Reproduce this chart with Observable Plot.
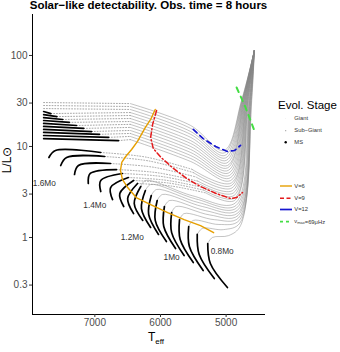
<!DOCTYPE html>
<html><head><meta charset="utf-8">
<script src="https://cdn.jsdelivr.net/npm/d3@7"></script>
<script src="https://cdn.jsdelivr.net/npm/@observablehq/plot@0.6"></script>
<style>
body{margin:0;background:#fff;font-family:"Liberation Sans",Arial,sans-serif;}
#wrap{position:relative;width:340px;height:352px;overflow:hidden;background:#fff;}
#wrap svg{position:absolute;left:0;top:0;}
</style></head><body><div id="wrap"></div>
<script>
// ---- track masses (Msun) ----
const masses = [0.8,0.85,0.9,0.95,1.0,1.05,1.1,1.15,1.2,1.25,1.3,1.35,1.4,1.45,1.5,1.55,1.6,1.65,1.7,1.75,1.8,1.85,1.9,1.95,2.0,2.05,2.1,2.15,2.2,2.25,2.3];
// ---- main sequence part of each track: [Teff, L] ----
const msTracks = [
 [[4980,0.282],[5240,0.518],[5280,0.859]],
 [[5180,0.354],[5410,0.650],[5440,1.08]],
 [[5350,0.434],[5560,0.796],[5570,1.32]],
 [[5500,0.531],[5700,0.95],[5710,1.57]],
 [[5640,0.634],[5830,1.13],[5830,1.88]],
 [[5770,0.757],[5950,1.32],[5940,2.19]],
 [[5910,0.903],[6080,1.54],[6050,2.55]],
 [[6030,1.08],[6180,1.79],[6140,2.89]],
 [[6150,1.29],[6290,2.08],[6230,3.28]],
 [[6270,1.54],[6400,2.36],[6300,3.63]],
 [[6410,1.83],[6500,2.68],[6350,3.92]],
 [[6560,2.19],[6620,3.04],[6410,4.23]],
 [[6730,2.61],[6760,3.54],[6490,4.56]],
 [[6910,3.20],[6910,4.23],[6580,5.05]],
 [[7100,3.92],[7070,5.05],[6670,5.58]],
 [[7310,4.92],[7250,6.18],[6760,6.50]],
 [[7520,6.18],[7430,7.57],[6850,7.76]],
 [[7700,7.57],[7600,9.04],[6910,8.59]],
 [[7780,12.2],[6640,11.6]],
 [[7780,13.2],[6790,12.6]],
 [[7780,14.3],[6930,13.6]],
 [[7780,15.4],[7050,14.6]],
 [[7780,16.6],[7170,15.8]],
 [[7780,17.9],[7280,17.0]],
 [[7780,19.3],[7390,18.4]],
 [[7780,20.8],[7490,19.8]],
 [[7780,22.4],[7580,21.3]],
 [[7780,24.2],[7670,23.0]],
 [],[],[]
];
// ---- fast sub-giant crossing (sparse points) ----
const sgDotted = [
 [],[],[],[],[],[],[],[],[],[],
 [[6350,3.92],[5830,3.67],[5310,3.09]],
 [[6410,4.23],[5870,3.96],[5340,3.31]],
 [[6490,4.56],[5920,4.26],[5360,3.55]],
 [[6580,5.05],[5990,4.69],[5400,3.85]],
 [[6670,5.58],[6050,5.15],[5430,4.16]],
 [[6760,6.50],[6110,5.92],[5460,4.62]],
 [[6850,7.76],[6180,6.94],[5500,5.17]],
 [[6910,8.59],[6220,7.64],[5520,5.61]],
 [[6640,11.6],[6460,11.9]],
 [[6790,12.6],[6460,12.9]],
 [[6930,13.6],[6460,13.9]],
 [[7050,14.6],[6460,15.0]],
 [[7170,15.8],[6460,16.2]],
 [[7280,17.0],[6460,17.5]],
 [[7390,18.4],[6460,18.8]],
 [[7490,19.8],[6460,20.3]],
 [[7580,21.3],[6460,21.9]],
 [[7670,23.0],[6460,23.6]],
 [[7780,26.1],[6460,25.5]],
 [[7780,28.2],[6460,27.5]],
 [[7780,30.4],[6460,29.6]]
];
// ---- later sub-giant path down to the base of the RGB ----
const postMS = [
 [[5280,0.859],[5210,1.00],[4960,1.05],[4780,1.35]],
 [[5440,1.08],[5360,1.26],[5040,1.22],[4790,1.44]],
 [[5570,1.32],[5500,1.54],[5110,1.39],[4800,1.54]],
 [[5710,1.57],[5640,1.83],[5180,1.57],[4810,1.64]],
 [[5830,1.88],[5760,2.19],[5250,1.77],[4820,1.74]],
 [[5940,2.19],[5860,2.55],[5310,1.97],[4820,1.86]],
 [[6050,2.55],[5970,2.97],[5360,2.19],[4830,1.98]],
 [[6140,2.89],[6060,3.37],[5410,2.41],[4840,2.11]],
 [[6230,3.28],[6150,3.82],[5460,2.65],[4850,2.24]],
 [[6300,3.63],[6230,4.23],[5510,2.87],[4860,2.39]],
 [[5310,3.09],[4870,2.55]],
 [[5340,3.31],[4870,2.71]],
 [[5360,3.55],[4880,2.89]],
 [[5400,3.85],[4890,3.08]],
 [[5430,4.16],[4900,3.28]],
 [[5460,4.62],[4910,3.50]],
 [[5500,5.17],[4920,3.72]],
 [[5520,5.61],[4920,3.97]],
 [[6460,11.9],[5540,6.84],[4930,4.23]],
 [[6460,12.9],[5540,7.38],[4940,4.51]],
 [[6460,13.9],[5540,7.96],[4950,4.80]],
 [[6460,15.0],[5540,8.59],[4960,5.12]],
 [[6460,16.2],[5540,9.27],[4970,5.45]],
 [[6460,17.5],[5540,10.0],[4980,5.81]],
 [[6460,18.8],[5540,10.8],[4980,6.18]],
 [[6460,20.3],[5540,11.6],[4990,6.59]],
 [[6460,21.9],[5540,12.6],[5000,7.02]],
 [[6460,23.6],[5540,13.6],[5010,7.48]],
 [[6460,25.5],[5540,14.6],[5020,7.96]],
 [[6460,27.5],[5540,15.8],[5030,8.49]],
 [[6460,29.6],[5540,17.0],[5030,9.04]]
];
// ---- red giant branch: mid point and common tip ----
const rgbMidTeff = [4610,4615,4620,4625,4630,4635,4640,4645,4650,4660,4665,4670,4675,4680,4685,4690,4695,4700,4705,4710,4715,4720,4725,4730,4735,4740,4745,4750,4755,4760,4765];
const rgbMidLum = 32;
const rgbTipTeff = 4570, rgbTipLum = 113;
// ---- detectability limits ----
const v6Teff = [6080,6150,6230,6290,6350,6440,6530,6590,6610,6580,6500,6370,6150,5890,5640,5390,5190];
const v6Lum  = [25.5,19.8,16.2,13.6,11.4,9.27,7.76,6.67,5.45,4.34,3.54,2.75,2.30,1.88,1.57,1.35,1.13];
const v9Teff = [6060,6120,6150,6110,5990,5820,5600,5390,5150,4930,4840,4750];
const v9Lum  = [24.8,17.5,12.6,9.51,7.57,5.87,4.45,3.63,3.04,2.68,2.75,3.12];
const v12Teff = [5500,5350,5160,4980,4870,4780];
const v12Lum  = [15.4,12.2,10.0,8.81,9.04,10.3];
const numaxTeff = [4840,4710,4570];
const numaxLum  = [44.5,27.5,15.0];
// ---- mass labels ----
const labelText = ["1.6Mo","1.4Mo","1.2Mo","1Mo","0.8Mo"];
const labelTeff = [7770,7000,6430,5830,5060];
const labelLum  = [3.92,2.24,1.0,0.603,0.70];
// ---- ticks ----
const xTicks = [7000,6000,5000];
const yTicks = [0.3,1,3,10,30,100];

const toRows = tracks => tracks.flatMap((pts,i)=>pts.map(([T,L])=>({mass:masses[i],T,L})));
const msRows = toRows(msTracks);
const sgRows = toRows(sgDotted);
const postRows = toRows(postMS.map((pts,i)=>pts.concat([[rgbMidTeff[i],rgbMidLum],[rgbTipTeff,rgbTipLum]])));
const zip = (a,b)=>a.map((T,i)=>({T,L:b[i]}));
const labels = labelText.map((t,i)=>({t,T:labelTeff[i],L:labelLum[i]}));

const chart = Plot.plot({
  width:340, height:352,
  marginLeft:32, marginRight:75, marginTop:14, marginBottom:38,
  x:{domain:[7950,4400]},
  y:{type:"log", domain:[0.1425,282]},
  style:{background:"transparent", fontFamily:"Liberation Sans, Arial, sans-serif", color:"#4d4d4d"},
  marks:[
    Plot.line(postRows,{x:"T",y:"L",z:"mass",stroke:"#858585",strokeWidth:0.7,strokeOpacity:0.7,curve:"catmull-rom",clip:true}),
    Plot.line(sgRows,{x:"T",y:"L",z:"mass",stroke:"#9a9a9a",strokeWidth:0.9,strokeDasharray:"0.9,1.9",curve:"catmull-rom",clip:true}),
    Plot.line(msRows,{x:"T",y:"L",z:"mass",stroke:"#000",strokeWidth:1.7,curve:"catmull-rom",clip:true}),
    Plot.line(zip(v6Teff,v6Lum),{x:"T",y:"L",stroke:"#E69F00",strokeWidth:1.4}),
    Plot.line(zip(v9Teff,v9Lum),{x:"T",y:"L",stroke:"#E41A1C",strokeWidth:1.5,strokeDasharray:"5,2.5,1.2,2.5"}),
    Plot.line(zip(v12Teff,v12Lum),{x:"T",y:"L",stroke:"#1515D0",strokeWidth:1.7,strokeDasharray:"5,4"}),
    Plot.line(zip(numaxTeff,numaxLum),{x:"T",y:"L",stroke:"#44DD44",strokeWidth:2,strokeDasharray:"5,5"}),
    Plot.text(labels,{x:"T",y:"L",text:"t",fontSize:8.3,fill:"#333"}),
    Plot.ruleX([7950],{stroke:"#000",strokeWidth:1}),
    Plot.ruleY([0.1425],{stroke:"#000",strokeWidth:1}),
    Plot.axisX({ticks:xTicks,tickFormat:d=>String(d),tickSize:3,tickPadding:1,fontSize:10,label:null,stroke:"#333",fill:"#4d4d4d"}),
    Plot.axisY({ticks:yTicks,tickFormat:d=>String(d),tickSize:3,tickPadding:2,fontSize:10,label:null,stroke:"#333",fill:"#4d4d4d"})
  ]
});
const wrap = document.getElementById("wrap");
wrap.appendChild(chart);

const ns="http://www.w3.org/2000/svg";
const ov = document.createElementNS(ns,"svg");
ov.setAttribute("width",340); ov.setAttribute("height",352);
ov.style.pointerEvents="none";
ov.style.fontFamily="Liberation Sans, Arial, sans-serif";
ov.innerHTML = `
<text x="148.5" y="9" text-anchor="middle" font-weight="bold" font-size="11.5" fill="#000">Solar−like detectability. Obs. time = 8 hours</text>
<text x="156" y="341" text-anchor="middle" font-size="12" fill="#000">T<tspan font-size="8" dy="3">eff</tspan></text>
<text transform="translate(11,160) rotate(-90)" text-anchor="middle" font-size="12" fill="#000">L/L⊙</text>
<text x="278" y="109" font-size="11.5" fill="#000">Evol. Stage</text>
<circle cx="285.7" cy="118.5" r="0.35" fill="#ccc"/>
<text x="294.3" y="118.5" font-size="5.8" fill="#333" dominant-baseline="middle">Giant</text>
<circle cx="285.7" cy="130.7" r="0.6" fill="#999"/>
<text x="294.3" y="130.7" font-size="5.8" fill="#333" dominant-baseline="middle">Sub−Giant</text>
<circle cx="285.7" cy="142.3" r="1.2" fill="#000"/>
<text x="294.3" y="142.3" font-size="5.8" fill="#333" dominant-baseline="middle">MS</text>
<line x1="280" x2="292" y1="186" y2="186" stroke="#E69F00" stroke-width="1.4"/>
<text x="294.3" y="186" font-size="5.8" fill="#333" dominant-baseline="middle">V=6</text>
<line x1="280" x2="292" y1="198.3" y2="198.3" stroke="#E41A1C" stroke-width="1.5" stroke-dasharray="4,2.5"/>
<text x="294.3" y="198.3" font-size="5.8" fill="#333" dominant-baseline="middle">V=9</text>
<line x1="280" x2="292" y1="209.5" y2="209.5" stroke="#1515D0" stroke-width="1.7"/>
<text x="294.3" y="209.5" font-size="5.8" fill="#333" dominant-baseline="middle">V=12</text>
<line x1="280" x2="292" y1="221.7" y2="221.7" stroke="#44DD44" stroke-width="1.8" stroke-dasharray="3,3"/>
<text x="294.3" y="221.7" font-size="5.8" fill="#333" dominant-baseline="middle">ν<tspan font-size="4" dy="1.2">max</tspan><tspan dy="-1.2">=69μHz</tspan></text>
`;
wrap.appendChild(ov);
</script>
</body></html>
